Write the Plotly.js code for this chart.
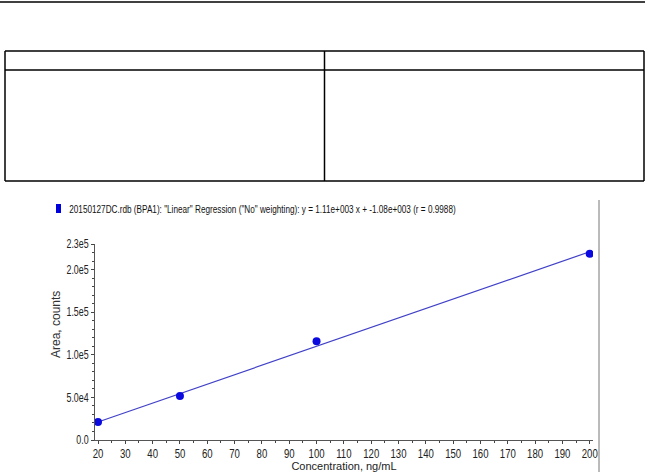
<!DOCTYPE html>
<html><head><meta charset="utf-8">
<script src="https://cdn.plot.ly/plotly-3.0.1.min.js"></script>
<style>html,body{margin:0;padding:0;background:#fff;}#c{width:649px;height:472px;}</style>
</head><body><div id="c"></div>
<script>
// Data
const concentrations = [20, 50, 100, 200];
const areas = [21000, 51500, 116000, 218500];
const fitX = [20, 200];
const fitY = [21120, 220920];
const yTickVals = [0, 50000, 100000, 150000, 200000, 230000];
const yTickText = ['0.0', '5.0e4', '1.0e5', '1.5e5', '2.0e5', '2.3e5'];
const xTickVals = [20,30,40,50,60,70,80,90,100,110,120,130,140,150,160,170,180,190,200];
const legendText = '20150127DC.rdb (BPA1): "Linear" Regression ("No" weighting): y = 1.11e+003 x + -1.08e+003 (r = 0.9988)';

const W = 649, H = 472;
const M = {l: 95, r: 56, t: 244, b: 32};
const pw = W - M.l - M.r, ph = H - M.t - M.b;
const px = x => (x - M.l) / pw;
const py = y => (H - M.b - y) / ph;
const font = 'Liberation Sans, Arial, sans-serif';

function line(x0,y0,x1,y1,color,w){
  return {type:'line', xref:'paper', yref:'paper', x0:px(x0), y0:py(y0), x1:px(x1), y1:py(y1),
          line:{color:color||'#000', width:w||1.5}};
}
const shapes = [
  line(0,2,645,2,'#000',1.5),
  line(5,51,644,51), line(5,70,644,70), line(5,181,644,181),
  line(5,51,5,181), line(644,51,644,181), line(324.5,51,324.5,181),
  line(599,200,599,472,'#777',1),
  {type:'rect', xref:'paper', yref:'paper', x0:px(56), x1:px(61), y0:py(204), y1:py(213),
   fillcolor:'#0000dd', line:{width:0}}
];

const traces = [
  {x: fitX, y: fitY, mode:'lines', line:{color:'#4040c8', width:1.2}, hoverinfo:'skip'},
  {x: concentrations, y: areas, mode:'markers', marker:{color:'#0a0ae0', size:8, symbol:'circle'}}
];

const layout = {
  width: W, height: H, showlegend:false,
  margin: {l:M.l, r:M.r, t:M.t, b:M.b, pad:0},
  paper_bgcolor:'#fff', plot_bgcolor:'#fff',
  font:{family:font, size:11, color:'#222'},
  xaxis:{range:[18.9, 201.2], tickvals:xTickVals, ticks:'outside', ticklen:3, tickcolor:'#444',
         showline:true, linecolor:'#555', linewidth:1, showgrid:false, zeroline:false,
         tickfont:{family:font, size:12, color:'#222'},
         minor:{dtick:5, tick0:0, ticks:'outside', ticklen:2, tickcolor:'#444', showgrid:false},
         title:{text:'Concentration, ng/mL', font:{family:font, size:11, color:'#222'}, standoff:1}},
  yaxis:{range:[0, 230000], tickvals:yTickVals, ticktext:yTickText, ticks:'outside', ticklen:3, tickcolor:'#444',
         showline:true, linecolor:'#555', linewidth:1, showgrid:false, zeroline:false,
         tickfont:{family:font, size:12, color:'#222'},
         minor:{dtick:10000, tick0:0, ticks:'outside', ticklen:2, tickcolor:'#444', showgrid:false}},
  shapes: shapes,
  annotations:[
    {xref:'paper', yref:'paper', x:px(67), y:py(209), xanchor:'left', yanchor:'middle', showarrow:false,
     text: legendText, font:{family:font, size:11, color:'#111'}},
    {xref:'paper', yref:'paper', x:px(56), y:py(325), xanchor:'center', yanchor:'middle', showarrow:false,
     textangle:-90, text:'Area, counts', font:{family:font, size:12, color:'#333'}}
  ]
};

function squeeze(el, sx, anchorX){
  const prev = el.getAttribute('transform') || '';
  el.setAttribute('transform', prev + ' translate(' + anchorX + ',0) scale(' + sx + ',1) translate(' + (-anchorX) + ',0)');
}
Plotly.newPlot('c', traces, layout, {displayModeBar:false, staticPlot:true}).then(function(){
  const ann = document.querySelectorAll('.annotation-text')[0];
  if (ann) { const b = ann.getBBox(); squeeze(ann, 0.745, b.x); }
  document.querySelectorAll('g.ytick text').forEach(function(t){
    const b = t.getBBox(); squeeze(t, 0.74, b.x + b.width);
  });
  document.querySelectorAll('g.xtick text').forEach(function(t){
    const b = t.getBBox(); squeeze(t, 0.8, b.x + b.width/2);
  });
});
</script></body></html>
